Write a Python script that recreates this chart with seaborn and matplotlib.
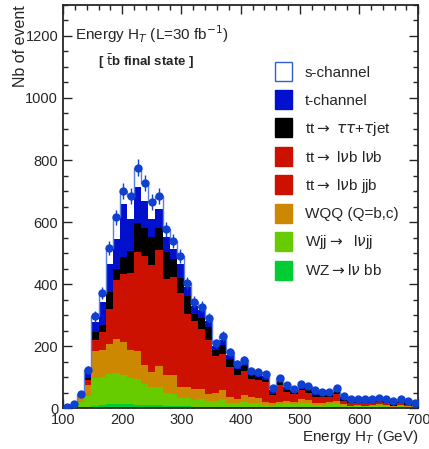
import numpy as np
import pandas as pd
import seaborn as sns
import matplotlib.pyplot as plt
from matplotlib.patches import Patch
from matplotlib.ticker import MultipleLocator

sns.set_style('ticks')
plt.rcParams['font.family'] = ['Liberation Sans', 'DejaVu Sans']

# 50 bins of 12 GeV between 100 and 700 GeV
edges = np.arange(100, 701, 12)
centers = edges[:-1] + 6

# events per bin for each process
wz = [2, 3, 4, 5, 8, 10, 12, 14, 14, 12, 11, 10, 9, 9, 8, 7, 6, 6, 5, 5,
      5, 5, 5, 4, 4, 4, 4, 4, 3, 3, 3, 3, 3, 3, 3, 3, 3, 3, 3, 3,
      2, 2, 2, 2, 2, 2, 2, 2, 2, 2]
wjj = [1, 4, 15, 33, 89, 89, 98, 100, 94, 85, 83, 67, 58, 58, 42, 38, 28, 28, 21, 25,
       19, 17, 25, 13, 12, 16, 14, 12, 8, 4, 10, 12, 10, 12, 12, 7, 7, 10, 12, 7,
       4, 5, 4, 4, 6, 4, 2, 4, 3, 2]
wqq = [0, 2, 16, 36, 88, 88, 98, 108, 106, 90, 91, 62, 48, 70, 56, 61, 33, 35, 35, 33,
       20, 26, 30, 19, 14, 21, 17, 16, 8, 8, 7, 9, 7, 13, 11, 5, 5, 7, 7, 3,
       2, 3, 2, 3, 4, 3, 2, 3, 2, 2]
tt_jjb = [0, 1, 2, 10, 20, 34, 67, 115, 131, 150, 191, 212, 209, 224, 187, 191, 182, 140, 133, 115,
          106, 72, 70, 58, 47, 47, 36, 35, 40, 16, 32, 17, 16, 18, 14, 12, 13, 10, 15, 6,
          5, 3, 4, 4, 5, 4, 1, 5, 2, 1]
tt_lvlv = [0, 0, 2, 6, 14, 23, 44, 76, 87, 100, 127, 141, 139, 149, 124, 127, 121, 94, 88, 77,
           71, 48, 46, 38, 31, 31, 24, 23, 26, 11, 22, 12, 11, 12, 9, 8, 9, 7, 10, 4,
           4, 2, 3, 2, 3, 2, 1, 3, 2, 1]
tt_tau = [0, 0, 2, 7, 27, 25, 54, 35, 56, 70, 93, 89, 90, 71, 86, 56, 51, 59, 21, 35,
          41, 18, 28, 26, 18, 16, 13, 12, 7, 5, 11, 7, 6, 5, 9, 7, 5, 5, 8, 5,
          3, 5, 3, 3, 5, 6, 7, 4, 4, 3]
t_chan = [0, 1, 3, 20, 31, 72, 91, 97, 170, 103, 116, 88, 57, 61, 48, 34, 45, 28, 25, 25,
          19, 14, 15, 12, 9, 13, 9, 10, 12, 11, 7, 9, 5, 11, 7, 11, 7, 7, 6, 8,
          6, 8, 7, 7, 5, 6, 4, 5, 5, 4]
s_chan = [0, 1, 2, 7, 19, 29, 51, 70, 42, 74, 63, 57, 54, 41, 26, 24, 24, 13, 15, 12,
          9, 10, 14, 10, 7, 7, 4, 6, 6, 6, 5, 5, 5, 4, 5, 4, 4, 4, 5, 4,
          4, 3, 3, 3, 4, 3, 3, 3, 3, 3]

procs = ['s-channel', 't-channel', 'tt$\\rightarrow$ $\\tau\\tau$+$\\tau$jet',
         'tt$\\rightarrow$ l$\\nu$b l$\\nu$b', 'tt$\\rightarrow$ l$\\nu$b jjb',
         'WQQ (Q=b,c)', 'Wjj$\\rightarrow$  l$\\nu$jj', 'WZ$\\rightarrow$l$\\nu$ bb']
series = [s_chan, t_chan, tt_tau, tt_lvlv, tt_jjb, wqq, wjj, wz]
colors = ['#ffffff', '#0010cc', '#000000', '#cc1100',
          '#cc1100', '#cc8800', '#66cc00', '#00cc33']

df = pd.DataFrame({
    'ht': np.tile(centers, len(procs)),
    'n': np.concatenate(series),
    'proc': np.repeat(procs, len(centers)),
})
total = np.sum(series, axis=0)

fig = plt.figure(figsize=(4.29, 4.49), dpi=100)
ax = fig.add_axes([0.147, 0.091, 0.828, 0.898])

sns.histplot(data=df, x='ht', weights='n', hue='proc', hue_order=procs,
             multiple='stack', binwidth=12, binrange=(100, 700), element='step',
             palette=dict(zip(procs, colors)), linewidth=0, alpha=1, legend=False, ax=ax)
# outline of the s-channel on top of the stack
sns.histplot(x=centers, weights=total, binwidth=12, binrange=(100, 700), element='step',
             fill=False, color='#5a7fe0', linewidth=1.0, ax=ax)
ax.errorbar(centers, total, yerr=np.sqrt(total), fmt='o', ms=5, color='#1040d0',
            elinewidth=1.0, capsize=0, zorder=5)

ax.set_xlim(100, 700)
ax.set_ylim(0, 1300)
ax.xaxis.set_major_locator(MultipleLocator(100))
ax.xaxis.set_minor_locator(MultipleLocator(20))
ax.yaxis.set_major_locator(MultipleLocator(200))
ax.yaxis.set_minor_locator(MultipleLocator(50))
ax.tick_params(which='both', direction='in', top=True, right=True, labelsize=10.5)
ax.tick_params(which='major', length=6.5, width=1)
ax.tick_params(which='minor', length=3.5, width=1)
for sp in ax.spines.values():
    sp.set_linewidth(1.3)

ax.set_xlabel('Energy H$_T$ (GeV)', loc='right', fontsize=11, labelpad=1)
ax.set_ylabel('Nb of event', loc='top', fontsize=11.5)
ax.yaxis.set_label_coords(-0.099, 1.0)

ax.text(0.035, 0.913, 'Energy H$_T$ (L=30 fb$^{-1}$)', transform=ax.transAxes, fontsize=11)
ax.text(0.097, 0.848, '[ $\\bar{\\mathrm{t}}$b final state ]', transform=ax.transAxes,
        fontsize=9.5, fontweight='bold')

handles = [Patch(facecolor=c, edgecolor='#3060d0' if c == '#ffffff' else c, linewidth=1)
           for c in colors]
ax.legend(handles, procs, loc='upper left', bbox_to_anchor=(0.597, 0.858),
          frameon=False, fontsize=11, handlelength=1.1, handleheight=1.53,
          labelspacing=0.6, handletextpad=0.85, borderpad=0, borderaxespad=0)

fig.savefig('out.png', dpi=100)
